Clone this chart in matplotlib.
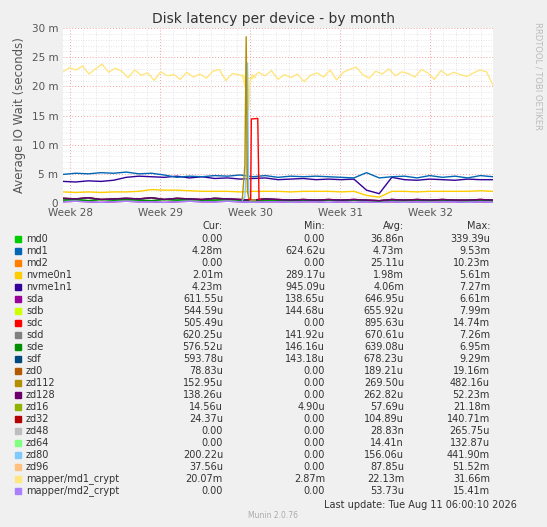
import numpy as np
import matplotlib.pyplot as plt

# --- data (milliseconds), x = days since start of Week 28 ---
crypt1 = [22.5, 23.2, 22.8, 23.5, 22.1, 23.0, 23.8, 22.4, 23.1, 22.6, 21.5, 22.8,
          21.9, 22.3, 21.0, 22.5, 21.8, 22.0, 21.2, 22.4, 21.6, 22.1, 21.4, 22.6,
          22.9, 21.0, 22.2, 22.0, 21.5, 21.3, 22.4, 21.8, 22.7, 21.2, 22.0, 21.5,
          22.1, 20.8, 21.9, 22.3, 21.6, 22.8, 21.1, 22.4, 22.9, 23.3, 22.0, 21.4,
          22.6, 22.1, 23.0, 21.8, 22.5, 22.2, 21.6, 22.9, 22.3, 21.2, 22.7, 21.9,
          22.4, 22.0, 21.7, 22.3, 22.8, 22.5, 20.2]
md1 = [4.9, 5.1, 5.0, 5.2, 5.1, 5.3, 5.0, 5.1, 4.8, 4.4, 4.6, 4.5, 4.7, 4.6,
       4.8, 4.5, 4.7, 4.4, 4.6, 4.5, 4.6, 4.5, 4.4, 4.3, 5.2, 4.3, 4.5, 4.6,
       4.3, 4.7, 4.4, 4.6, 4.3, 4.7, 4.5]
nvme1 = [3.7, 3.6, 3.8, 3.7, 3.9, 4.4, 4.6, 4.5, 4.4, 4.6, 4.3, 4.5, 4.2, 4.3,
         4.1, 4.2, 4.3, 4.0, 4.1, 4.2, 4.0, 4.1, 4.0, 4.1, 2.2, 1.6, 4.4, 4.0,
         3.9, 4.1, 4.0, 3.9, 4.1, 4.0, 4.0]
nvme0 = [1.9, 1.8, 1.9, 1.8, 1.9, 1.9, 2.0, 2.3, 2.2, 2.2, 2.1, 2.0, 2.0, 2.0,
         1.9, 2.0, 2.0, 2.0, 1.9, 2.0, 2.0, 2.0, 1.9, 2.0, 1.3, 1.0, 2.0, 2.0,
         1.9, 2.0, 2.0, 2.0, 2.0, 2.1, 2.0]
low_a = [0.8, 0.7, 0.9, 0.6, 0.7, 0.8, 0.7, 0.9, 0.6, 0.8, 0.7, 0.6, 0.8, 0.7,
         0.6, 0.5, 0.7, 0.6, 0.5, 0.6, 0.5, 0.6, 0.5, 0.6, 0.5, 0.4, 0.6, 0.5,
         0.6, 0.5, 0.6, 0.5, 0.5, 0.6, 0.5]
low_b = [0.5, 0.6, 0.4, 0.6, 0.5, 0.6, 0.5, 0.4, 0.6, 0.5, 0.6, 0.5, 0.5, 0.6,
         0.5, 0.4, 0.5, 0.5, 0.4, 0.5, 0.4, 0.5, 0.4, 0.5, 0.4, 0.3, 0.5, 0.4,
         0.5, 0.4, 0.5, 0.4, 0.4, 0.5, 0.4]
low_c = [0.2, 0.3, 0.2, 0.1, 0.2, 0.3, 0.2, 0.2, 0.1, 0.2, 0.3, 0.2, 0.2, 0.3,
         0.2, 0.1, 0.2, 0.2, 0.1, 0.2, 0.2, 0.1, 0.2, 0.1, 0.2, 0.1, 0.2, 0.1,
         0.2, 0.1, 0.2, 0.2, 0.1, 0.2, 0.1]
# week-30 incident
spike_x = [13.4, 13.6, 13.7, 13.8, 13.9, 14.0, 14.2, 14.4]
zd112_spike = [0.7, 6.5, 28.5, 2.0, 0.8, 0.6, 0.5, 0.5]
crypt_spike = [22.0, 20.0, 24.0, 22.5, 16.0, 21.0, 22.0, 21.5]
zd80_spike = [0.5, 1.0, 5.0, 24.0, 1.0, 0.5, 0.5, 0.5]
sdc_x = [13.9, 14.05, 14.1, 14.6, 14.7, 14.8]
sdc_spike = [0.6, 0.6, 14.4, 14.5, 0.6, 0.6]

names = ["md0", "md1", "md2", "nvme0n1", "nvme1n1", "sda", "sdb", "sdc", "sdd", "sde",
         "sdf", "zd0", "zd112", "zd128", "zd16", "zd32", "zd48", "zd64", "zd80", "zd96",
         "mapper/md1_crypt", "mapper/md2_crypt"]
colors = ["#00CC00", "#0066B3", "#FF8000", "#FFCC00", "#330099", "#990099", "#CCFF00",
          "#FF0000", "#808080", "#008F00", "#00487D", "#B35A00", "#B38F00", "#6B006B",
          "#8FB300", "#B30000", "#BEBEBE", "#80FF80", "#80C9FF", "#FFC080", "#FFE680",
          "#AA80FF"]
cur = ["0.00", "4.28m", "0.00", "2.01m", "4.23m", "611.55u", "544.59u", "505.49u",
       "620.25u", "576.52u", "593.78u", "78.83u", "152.95u", "138.26u", "14.56u",
       "24.37u", "0.00", "0.00", "200.22u", "37.56u", "20.07m", "0.00"]
mins = ["0.00", "624.62u", "0.00", "289.17u", "945.09u", "138.65u", "144.68u", "0.00",
        "141.92u", "146.16u", "143.18u", "0.00", "0.00", "0.00", "4.90u", "0.00",
        "0.00", "0.00", "0.00", "0.00", "2.87m", "0.00"]
avgs = ["36.86n", "4.73m", "25.11u", "1.98m", "4.06m", "646.95u", "655.92u", "895.63u",
        "670.61u", "639.08u", "678.23u", "189.21u", "269.50u", "262.82u", "57.69u",
        "104.89u", "28.83n", "14.41n", "156.06u", "87.85u", "22.13m", "53.73u"]
maxs = ["339.39u", "9.53m", "10.23m", "5.61m", "7.27m", "6.61m", "7.99m", "14.74m",
        "7.26m", "6.95m", "9.29m", "19.16m", "482.16u", "52.23m", "21.18m", "140.71m",
        "265.75u", "132.87u", "441.90m", "51.52m", "31.66m", "15.41m"]

W, H = 547, 527
fig = plt.figure(figsize=(W / 100, H / 100), dpi=100, facecolor="#F0F0F0")
ax = fig.add_axes([63 / W, 1 - 203 / H, 430 / W, 175 / H], facecolor="white")

x0, x1 = -0.55, 32.9
def xs(v):
    return np.linspace(x0, x1, len(v))

series = [(low_c, "#990099"), (low_b, "#00CC00"), (low_a, "#FF0000"), (low_b, "#008F00"),
          (low_a, "#00487D"), (low_c, "#AA80FF"), (low_a, "#6B006B"),
          (nvme0, "#FFCC00"), (nvme1, "#330099"), (md1, "#0066B3"), (crypt1, "#FFE680")]
for vals, c in series:
    ax.plot(xs(vals), vals, color=c, lw=1)
ax.plot(spike_x, crypt_spike, color="#FFE680", lw=1)
ax.plot(spike_x, zd80_spike, color="#80C9FF", lw=1)
ax.plot(spike_x, zd112_spike, color="#B38F00", lw=1)
ax.plot(sdc_x, sdc_spike, color="#FF0000", lw=1)

ax.set_xlim(x0, x1)
ax.set_ylim(0, 30)
ax.set_yticks([0, 5, 10, 15, 20, 25, 30])
ax.set_yticklabels(["0", "5 m", "10 m", "15 m", "20 m", "25 m", "30 m"])
ax.set_yticks(np.arange(0, 30, 1), minor=True)
ax.set_xticks([0, 7, 14, 21, 28])
ax.set_xticklabels(["Week 28", "Week 29", "Week 30", "Week 31", "Week 32"])
ax.set_xticks(np.arange(0, 33, 1), minor=True)
ax.grid(which="minor", color="#DDDDDD", ls=(0, (1, 2)), lw=0.6)
ax.grid(which="major", color="#F0A0A0", ls=(0, (1, 2)), lw=0.7)
ax.tick_params(which="both", labelsize=7.5, colors="#555555", length=0)
for s in ax.spines.values():
    s.set_visible(False)
ax.set_ylabel("Average IO Wait (seconds)", fontsize=8.5, color="#555555")
fig.text(273 / W, 1 - 19 / H, "Disk latency per device - by month", ha="center",
         va="center", fontsize=10, color="#333333")
fig.text(538 / W, 1 - 22 / H, "RRDTOOL / TOBI OETIKER", rotation=270, ha="center",
         va="top", fontsize=6, color="#BBBBBB")

fs = 7
ty = lambda y: 1 - y / H
for txt, xp in [("Cur:", 223), ("Min:", 325), ("Avg:", 404), ("Max:", 490)]:
    fig.text(xp / W, ty(226), txt, ha="right", va="center", fontsize=fs, color="#333333")
for i, n in enumerate(names):
    y = 239 + i * 12.0
    fig.patches.append(plt.Rectangle((15 / W, ty(y + 3)), 6 / W, 6 / H,
                                     transform=fig.transFigure, color=colors[i]))
    fig.text(26 / W, ty(y), n, va="center", fontsize=fs, color="#333333")
    for vals, xp in [(cur, 223), (mins, 325), (avgs, 404), (maxs, 490)]:
        fig.text(xp / W, ty(y), vals[i], ha="right", va="center", fontsize=fs,
                 color="#333333")
fig.text(517 / W, ty(505), "Last update: Tue Aug 11 06:00:10 2026", ha="right",
         va="center", fontsize=fs, color="#333333")
fig.text(273 / W, ty(516), "Munin 2.0.76", ha="center", va="center", fontsize=5.5,
         color="#AAAAAA")

fig.savefig("out.png", dpi=100, facecolor=fig.get_facecolor())
